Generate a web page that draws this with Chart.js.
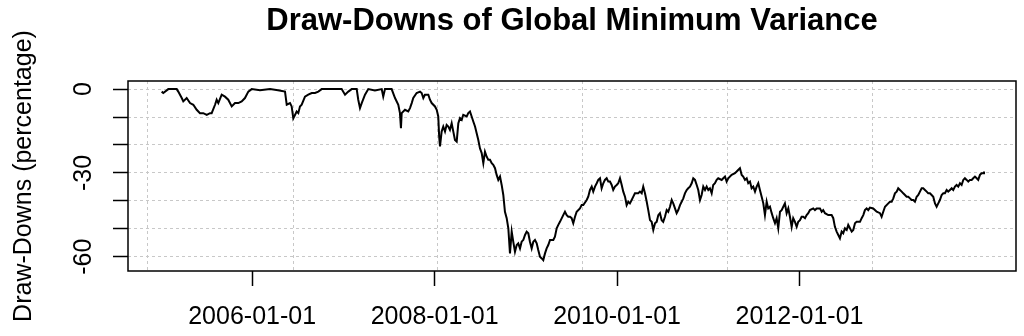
<!DOCTYPE html>
<html>
<head>
<meta charset="utf-8">
<title>Draw-Downs of Global Minimum Variance</title>
<script src="https://cdn.jsdelivr.net/npm/chart.js@4.4.1/dist/chart.umd.min.js"></script>
<style>
  html, body { margin: 0; padding: 0; background: #fff; }
  canvas { display: block; }
</style>
</head>
<body>
<canvas id="ddChart" width="1024" height="336"></canvas>
<script>
const years = [
  2005.008, 2005.026, 2005.081, 2005.136, 2005.173, 2005.190, 2005.228, 2005.245, 2005.282, 2005.319,
  2005.355, 2005.392, 2005.428, 2005.464, 2005.502, 2005.538, 2005.556, 2005.593, 2005.611, 2005.629,
  2005.666, 2005.702, 2005.738, 2005.776, 2005.812, 2005.848, 2005.885, 2005.921, 2005.958, 2005.995,
  2006.086, 2006.196, 2006.283, 2006.360, 2006.379, 2006.415, 2006.433, 2006.451, 2006.488, 2006.506,
  2006.524, 2006.543, 2006.579, 2006.615, 2006.653, 2006.689, 2006.725, 2006.762, 2006.886, 2006.981,
  2007.018, 2007.054, 2007.091, 2007.146, 2007.163, 2007.182, 2007.201, 2007.237, 2007.273, 2007.346,
  2007.420, 2007.437, 2007.456, 2007.529, 2007.566, 2007.602, 2007.620, 2007.631, 2007.639, 2007.675,
  2007.711, 2007.730, 2007.749, 2007.766, 2007.803, 2007.840, 2007.858, 2007.876, 2007.894, 2007.931,
  2007.949, 2007.968, 2008.004, 2008.023, 2008.040, 2008.050, 2008.059, 2008.077, 2008.095, 2008.114,
  2008.132, 2008.150, 2008.168, 2008.187, 2008.205, 2008.223, 2008.242, 2008.260, 2008.278, 2008.297,
  2008.314, 2008.352, 2008.369, 2008.388, 2008.406, 2008.424, 2008.443, 2008.461, 2008.479, 2008.497,
  2008.516, 2008.534, 2008.552, 2008.571, 2008.588, 2008.607, 2008.626, 2008.643, 2008.662, 2008.680,
  2008.698, 2008.717, 2008.735, 2008.753, 2008.771, 2008.790, 2008.808, 2008.826, 2008.845, 2008.862,
  2008.881, 2008.900, 2008.917, 2008.936, 2008.954, 2008.972, 2008.991, 2009.009, 2009.027, 2009.045,
  2009.064, 2009.082, 2009.100, 2009.119, 2009.136, 2009.155, 2009.174, 2009.191, 2009.210, 2009.228,
  2009.246, 2009.265, 2009.301, 2009.319, 2009.338, 2009.356, 2009.374, 2009.410, 2009.429, 2009.448,
  2009.465, 2009.484, 2009.502, 2009.520, 2009.539, 2009.557, 2009.593, 2009.612, 2009.630, 2009.667,
  2009.684, 2009.703, 2009.722, 2009.739, 2009.758, 2009.777, 2009.794, 2009.813, 2009.831, 2009.849,
  2009.867, 2009.886, 2009.904, 2009.922, 2009.941, 2009.958, 2009.977, 2009.996, 2010.013, 2010.032,
  2010.051, 2010.068, 2010.087, 2010.105, 2010.123, 2010.141, 2010.160, 2010.178, 2010.196, 2010.232,
  2010.251, 2010.270, 2010.287, 2010.306, 2010.325, 2010.342, 2010.361, 2010.379, 2010.397, 2010.416,
  2010.434, 2010.452, 2010.470, 2010.489, 2010.506, 2010.525, 2010.544, 2010.561, 2010.580, 2010.599,
  2010.616, 2010.635, 2010.653, 2010.671, 2010.690, 2010.708, 2010.726, 2010.744, 2010.763, 2010.780,
  2010.799, 2010.818, 2010.835, 2010.854, 2010.873, 2010.890, 2010.909, 2010.927, 2010.945, 2010.964,
  2010.982, 2011.000, 2011.018, 2011.037, 2011.054, 2011.073, 2011.092, 2011.109, 2011.147, 2011.164,
  2011.183, 2011.201, 2011.219, 2011.256, 2011.292, 2011.311, 2011.347, 2011.366, 2011.383, 2011.402,
  2011.421, 2011.438, 2011.457, 2011.475, 2011.493, 2011.512, 2011.530, 2011.548, 2011.566, 2011.585,
  2011.603, 2011.621, 2011.640, 2011.657, 2011.676, 2011.695, 2011.712, 2011.731, 2011.749, 2011.767,
  2011.786, 2011.804, 2011.822, 2011.840, 2011.859, 2011.877, 2011.895, 2011.914, 2011.931, 2011.950,
  2011.969, 2011.986, 2012.005, 2012.023, 2012.041, 2012.060, 2012.078, 2012.096, 2012.114, 2012.151,
  2012.169, 2012.188, 2012.224, 2012.243, 2012.260, 2012.279, 2012.315, 2012.352, 2012.370, 2012.388,
  2012.407, 2012.425, 2012.443, 2012.462, 2012.479, 2012.498, 2012.517, 2012.534, 2012.553, 2012.572,
  2012.589, 2012.608, 2012.626, 2012.663, 2012.681, 2012.699, 2012.717, 2012.736, 2012.753, 2012.772,
  2012.808, 2012.846, 2012.882, 2012.900, 2012.918, 2012.937, 2012.973, 2012.991, 2013.010, 2013.028,
  2013.046, 2013.065, 2013.082, 2013.101, 2013.120, 2013.137, 2013.156, 2013.174, 2013.192, 2013.211,
  2013.229, 2013.247, 2013.265, 2013.284, 2013.302, 2013.320, 2013.339, 2013.356, 2013.375, 2013.394,
  2013.411, 2013.430, 2013.448, 2013.466, 2013.485, 2013.503, 2013.521, 2013.539, 2013.558, 2013.576,
  2013.594, 2013.613, 2013.630, 2013.649, 2013.668, 2013.685, 2013.704, 2013.722, 2013.740, 2013.759,
  2013.777, 2013.795, 2013.813, 2013.832, 2013.850, 2013.868, 2013.887, 2013.904, 2013.923, 2013.942,
  2013.959, 2013.978, 2013.996, 2014.014, 2014.022
];

// draw-down in percent, same order as years
const drawdowns = [
  -0.9, -1.4, 0, 0, 0, -0.9, -3.2, -4.4, -3.2, -5.0,
  -5.6, -7.4, -8.6, -8.6, -9.2, -8.6, -8.6, -5.6, -3.8, -5.0,
  -2.0, -2.7, -3.8, -6.2, -5.0, -5.0, -4.4, -3.2, -0.9, 0,
  -0.4, 0, -0.4, -0.9, -5.6, -5.0, -6.2, -10.5, -8.0, -8.6,
  -6.2, -5.6, -2.7, -2.0, -1.4, -1.4, -0.9, 0, 0, 0,
  -2.0, -0.9, 0, 0, -3.8, -6.8, -5.0, -2.0, 0, -0.5,
  0, -2.7, 0, 0, -3.2, -5.6, -8.6, -14.0, -8.6, -7.4,
  -8.0, -6.8, -5.0, -3.2, -1.4, -0.9, -1.4, -3.2, -2.0, -2.0,
  -3.8, -5.0, -6.2, -7.4, -9.8, -17.0, -20.5, -15.2, -13.4, -15.2,
  -12.8, -13.4, -14.6, -12.2, -15.2, -18.2, -18.8, -12.2, -10.4, -11.0,
  -9.2, -9.8, -8.6, -8.0, -9.8, -11.6, -13.4, -15.8, -18.2, -21.2,
  -22.9, -26.5, -22.4, -24.2, -25.3, -25.3, -26.5, -27.1, -28.3, -30.7,
  -32.5, -31.3, -34.3, -37.9, -43.9, -46.2, -49.8, -58.8, -51.0, -54.6,
  -58.2, -55.8, -55.2, -57.0, -54.6, -54.0, -52.2, -51.0, -51.6, -54.6,
  -57.0, -54.6, -54.0, -55.2, -57.6, -60.0, -60.6, -61.2, -58.8, -57.0,
  -55.8, -54.0, -54.0, -52.8, -49.8, -48.6, -47.5, -45.1, -43.9, -45.1,
  -45.7, -45.7, -46.2, -48.0, -45.7, -43.9, -42.7, -41.5, -41.5, -39.7,
  -38.5, -36.1, -34.9, -36.7, -34.9, -33.7, -32.5, -31.9, -35.5, -33.7,
  -32.5, -31.9, -33.1, -33.1, -34.3, -36.1, -34.9, -34.3, -33.7, -31.9,
  -34.3, -36.7, -38.5, -41.5, -40.3, -40.9, -39.7, -38.5, -37.3, -37.3,
  -36.7, -37.3, -34.9, -37.3, -40.3, -43.3, -46.9, -47.5, -50.4, -48.0,
  -47.5, -45.1, -44.4, -46.9, -47.5, -45.7, -43.3, -43.9, -42.1, -39.7,
  -40.9, -42.7, -44.4, -43.3, -41.5, -40.3, -39.1, -37.3, -36.1, -35.5,
  -34.9, -33.7, -31.9, -32.5, -34.3, -36.1, -39.7, -37.9, -34.9, -36.1,
  -34.9, -36.1, -35.5, -37.3, -34.3, -33.7, -32.5, -31.9, -32.5, -31.9,
  -31.3, -33.1, -31.9, -30.7, -30.1, -29.5, -28.3, -30.7, -31.3, -32.5,
  -31.9, -33.7, -33.1, -35.5, -34.9, -36.7, -34.9, -33.7, -36.1, -38.5,
  -40.9, -45.1, -40.3, -42.7, -42.1, -44.4, -46.2, -48.0, -46.2, -49.8,
  -43.9, -43.3, -42.1, -40.9, -44.4, -42.7, -45.7, -49.3, -46.2, -47.5,
  -49.3, -47.5, -46.9, -45.7, -45.7, -46.2, -45.1, -44.4, -43.3, -42.7,
  -43.3, -42.7, -42.7, -43.9, -43.3, -44.4, -45.1, -45.1, -46.2, -49.3,
  -51.0, -52.2, -53.4, -51.0, -51.6, -49.8, -50.4, -48.6, -49.8, -51.0,
  -50.4, -48.0, -47.5, -47.5, -46.2, -45.1, -43.3, -42.7, -43.3, -42.4,
  -42.7, -43.9, -44.4, -45.7, -43.9, -42.1, -40.9, -40.3, -40.3, -39.1,
  -37.3, -36.7, -35.5, -36.1, -36.7, -37.3, -37.9, -38.5, -38.5, -39.1,
  -39.7, -39.7, -40.3, -38.5, -37.9, -36.7, -35.5, -35.5, -36.1, -36.7,
  -37.3, -37.3, -37.9, -38.5, -40.9, -42.1, -40.9, -39.7, -37.9, -37.3,
  -37.3, -36.1, -36.7, -36.1, -35.5, -36.1, -34.9, -34.3, -34.9, -33.7,
  -34.3, -32.5, -31.9, -32.5, -33.1, -32.5, -32.5, -31.9, -31.3, -31.9,
  -32.5, -30.7, -30.1, -30.1, -29.5
];

const yTicks = [0, -10, -20, -30, -40, -50, -60];
const yLabelValues = [0, -30, -60];
const xLabelYears = [2006, 2008, 2010, 2012];
const xLabels = ['2006-01-01', '2008-01-01', '2010-01-01', '2012-01-01'];
// dotted vertical grid lines (not on the date ticks)
const xGridYears = [2004.858, 2006.448, 2008.037, 2009.626, 2011.216, 2012.798];

const family = "'Liberation Sans', Arial, sans-serif";
const gridGray = '#c8c8c8';
const clear = 'rgba(0,0,0,0)';

// full box round the plot region, like R's box()
const boxPlugin = {
  id: 'plotBox',
  afterDraw(chart) {
    const { ctx, chartArea: a } = chart;
    ctx.save();
    ctx.strokeStyle = '#000';
    ctx.lineWidth = 1.5;
    ctx.strokeRect(a.left, a.top, a.right - a.left, a.bottom - a.top);
    ctx.restore();
  }
};

new Chart(document.getElementById('ddChart'), {
  type: 'line',
  data: {
    datasets: [{
      data: years.map((x, i) => ({ x: x, y: drawdowns[i] })),
      borderColor: '#000',
      borderWidth: 2,
      pointRadius: 0,
      fill: false,
      tension: 0
    }]
  },
  options: {
    responsive: false,
    animation: false,
    devicePixelRatio: 1,
    layout: { padding: { left: 0, right: 8, top: 0, bottom: 0 } },
    plugins: {
      legend: { display: false },
      tooltip: { enabled: false }
    },
    scales: {
      x: {
        type: 'linear',
        position: 'bottom',
        min: 2004.639,
        max: 2014.373,
        afterBuildTicks: s => {
          s.ticks = xGridYears.concat(xLabelYears).sort((a, b) => a - b).map(v => ({ value: v }));
        },
        afterFit: s => { s.height = 65; },
        grid: {
          color: c => (c.tick && xGridYears.includes(c.tick.value)) ? gridGray : clear,
          tickColor: c => (c.tick && xLabelYears.includes(c.tick.value)) ? '#000' : clear,
          lineWidth: 1,
          tickLength: 15,
          tickWidth: 1.5
        },
        border: { display: false, dash: [3, 3] },
        ticks: {
          autoSkip: false,
          minRotation: 0,
          maxRotation: 0,
          padding: 16,
          color: '#000',
          font: { family: family, size: 25 },
          callback: v => {
            const i = xLabelYears.indexOf(v);
            return i >= 0 ? xLabels[i] : '';
          }
        }
      },
      xTitle: {
        type: 'linear',
        position: 'top',
        min: 0,
        max: 1,
        afterFit: s => { s.height = 81; },
        grid: { display: false, drawTicks: false },
        border: { display: false },
        ticks: { display: false },
        title: {
          display: true,
          text: 'Draw-Downs of Global Minimum Variance',
          color: '#000',
          font: { family: family, size: 31, weight: 'bold' },
          padding: { top: 3, bottom: 0 }
        }
      },
      y: {
        type: 'linear',
        position: 'left',
        min: -65.1,
        max: 2.9,
        afterBuildTicks: s => { s.ticks = yTicks.map(v => ({ value: v })); },
        afterFit: s => { s.width = 128; },
        grid: {
          color: gridGray,
          lineWidth: 1,
          tickColor: '#000',
          tickLength: 15,
          tickWidth: 1.5
        },
        border: { display: false, dash: [3, 3] },
        ticks: {
          autoSkip: false,
          minRotation: 90,
          maxRotation: 90,
          crossAlign: 'center',
          padding: 11,
          color: '#000',
          font: { family: family, size: 25 },
          callback: v => yLabelValues.includes(v) ? String(v) : ''
        },
        title: {
          display: true,
          text: 'Draw-Downs (percentage)',
          color: '#000',
          font: { family: family, size: 25 },
          padding: { top: 9, bottom: 0 }
        }
      }
    }
  },
  plugins: [boxPlugin]
});
</script>
</body>
</html>
